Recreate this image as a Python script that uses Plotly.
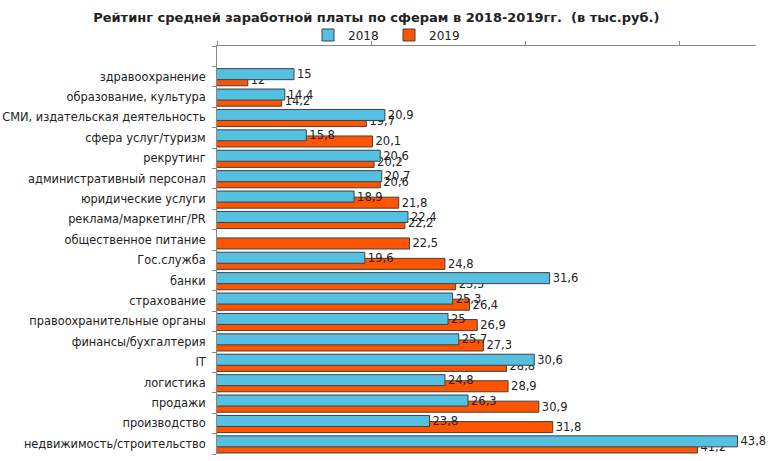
import plotly.graph_objects as go

categories = [
    "здравоохранение", "образование, культура", "СМИ, издательская деятельность",
    "сфера услуг/туризм", "рекрутинг", "административный персонал",
    "юридические услуги", "реклама/маркетинг/PR", "общественное питание",
    "Гос.служба", "банки", "страхование", "правоохранительные органы",
    "финансы/бухгалтерия", "IT", "логистика", "продажи", "производство",
    "недвижимость/строительство",
]
values_2018 = [15, 14.4, 20.9, 15.8, 20.6, 20.7, 18.9, 22.4, None, 19.6,
               31.6, 25.3, 25, 25.7, 30.6, 24.8, 26.3, 23.8, 43.8]
values_2019 = [12, 14.2, 19.7, 20.1, 20.2, 20.6, 21.8, 22.2, 22.5, 24.8,
               25.5, 26.4, 26.9, 27.3, 28.8, 28.9, 30.9, 31.8, 41.2]
series_names = ["2018", "2019"]


def fmt(v):
    return "" if v is None else f"{v:g}".replace(".", ",")


ypos = list(range(len(categories)))
FONT = "DejaVu Sans"

fig = go.Figure()
# 2019 drawn first so that 2018 bars overlap it
fig.add_trace(go.Bar(
    name=series_names[1], y=ypos, x=values_2019, orientation="h",
    width=0.54, offset=-0.09,
    marker=dict(color="#FF5500", line=dict(color="#404040", width=1)),
    text=[fmt(v) for v in values_2019], textposition="outside",
    constraintext="none", cliponaxis=False,
    textfont=dict(family=FONT, size=11.5, color="#222"),
    legendrank=2,
))
fig.add_trace(go.Bar(
    name=series_names[0], y=ypos, x=values_2018, orientation="h",
    width=0.54, offset=-0.39,
    marker=dict(color="#55C0E2", line=dict(color="#404040", width=1)),
    text=[fmt(v) for v in values_2018], textposition="outside",
    constraintext="none", cliponaxis=False,
    textfont=dict(family=FONT, size=11.5, color="#222"),
    legendrank=1,
))

fig.update_layout(
    width=768, height=461,
    barmode="overlay",
    plot_bgcolor="white", paper_bgcolor="white",
    margin=dict(l=217, r=12, t=46, b=7, autoexpand=False),
    font=dict(family=FONT, size=11, color="#222"),
    title=dict(
        text="<b>Рейтинг средней заработной платы по сферам в 2018-2019гг.  (в тыс.руб.)</b>",
        x=0.49, xref="container", xanchor="center",
        y=1 - 17 / 461, yref="container", yanchor="middle",
        font=dict(family=FONT, size=13, color="#222"),
    ),
    legend=dict(
        orientation="h", x=308 / 768, xref="container", xanchor="left",
        y=1 - 35 / 461, yref="container", yanchor="middle",
        font=dict(family=FONT, size=12), itemwidth=30,
        entrywidth=36, entrywidthmode="pixels",
        bgcolor="rgba(0,0,0,0)",
    ),
    showlegend=True,
)
fig.update_xaxes(
    range=[10, 45], side="top", showline=True, linecolor="#888", linewidth=1,
    ticks="outside", ticklen=4, tickcolor="#888", tick0=0, dtick=10,
    showticklabels=False, showgrid=False, zeroline=False,
)
fig.update_yaxes(
    range=[len(categories) - 0.5, -1.5], tickmode="array", tickvals=ypos,
    ticktext=categories, ticks="", showline=True, linecolor="#888",
    linewidth=1, showgrid=False, zeroline=False,
    tickfont=dict(family=FONT, size=11.4, color="#222"), ticklabelstandoff=8,
    minor=dict(tickmode="array", tickvals=[i - 0.5 for i in range(-1, len(categories) + 1)],
               ticks="outside", ticklen=4, tickcolor="#888", showgrid=False),
)

fig.write_html("out.html", config={"displayModeBar": False},
               post_script="document.body.style.margin='0';")
